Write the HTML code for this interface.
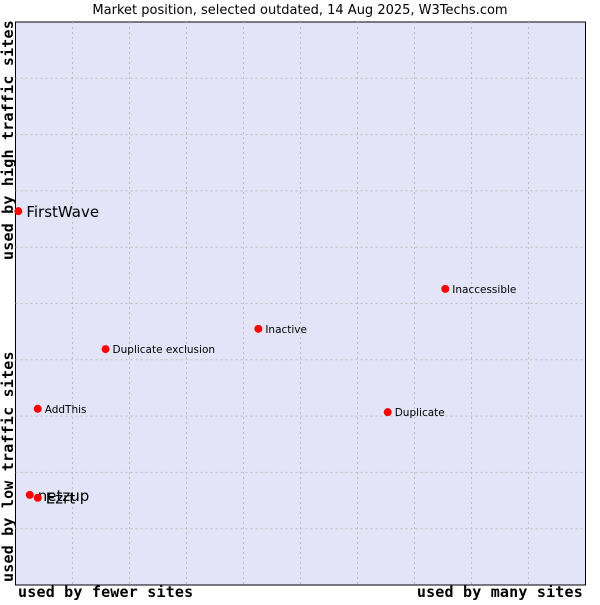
<!DOCTYPE html>
<html><head><meta charset="utf-8"><style>
body{margin:0;background:#fff;width:600px;height:600px;overflow:hidden}
svg text{font-family:"DejaVu Sans","Liberation Sans",sans-serif}
.mono{font-family:"DejaVu Sans Mono","Liberation Mono",monospace;font-size:15px;font-weight:bold;letter-spacing:0.2px}
</style></head><body>
<svg id="chart" width="600" height="600">
<text x="300" y="14" text-anchor="middle" font-size="13">Market position, selected outdated, 14 Aug 2025, W3Techs.com</text>
<rect x="15.5" y="22" width="570" height="563" fill="#e3e4f7" stroke="#000"/>
<g id="grid"></g>
<g id="marks"></g>
<text class="mono" x="18" y="597">used by fewer sites</text>
<text class="mono" x="583" y="597" text-anchor="end">used by many sites</text>
<text class="mono" transform="translate(13,582) rotate(-90)">used by low traffic sites</text>
<text class="mono" transform="translate(13,260) rotate(-90)">used by high traffic sites</text>
</svg>
<script>
const names=["FirstWave","Inaccessible","Inactive","Duplicate exclusion","AddThis","Duplicate","netzup","Ezrt"];
const xs=[0.5,75.4,42.6,15.8,3.9,65.3,2.5,3.9];
const ys=[66.4,52.6,45.5,41.9,31.3,30.7,16.0,15.5];
const big=[true,false,false,false,false,false,true,true];
const X0=15.5,W=570,Y0=22,H=563;
const sx=v=>X0+v/100*W, sy=v=>Y0+H-v/100*H;
const NS="http://www.w3.org/2000/svg";
const g=document.getElementById('grid');
for(let i=1;i<10;i++){
 const v=document.createElementNS(NS,'line');
 v.setAttribute('x1',sx(i*10));v.setAttribute('x2',sx(i*10));v.setAttribute('y1',Y0);v.setAttribute('y2',Y0+H);
 v.setAttribute('stroke','#bdbdbd');v.setAttribute('stroke-dasharray','2,3');
 
 
 g.appendChild(v);
 const h=document.createElementNS(NS,'line');
 h.setAttribute('y1',sy(i*10));h.setAttribute('y2',sy(i*10));h.setAttribute('x1',X0);h.setAttribute('x2',X0+W);
 h.setAttribute('stroke','#bdbdbd');h.setAttribute('stroke-dasharray','2,3');
 
 
 g.appendChild(h);
}
const m=document.getElementById('marks');
names.forEach((n,i)=>{
 const c=document.createElementNS(NS,'circle');
 c.setAttribute('cx',sx(xs[i]));c.setAttribute('cy',sy(ys[i]));c.setAttribute('r',4);c.setAttribute('fill','#f00');
 
 
 m.appendChild(c);
 const t=document.createElementNS(NS,'text');
 t.setAttribute('x',sx(xs[i])+(big[i]?8:7));t.setAttribute('y',sy(ys[i])+(big[i]?6:4));
 t.setAttribute('font-size',big[i]?15:10.5);
 t.textContent=n;
 
 
 m.appendChild(t);
});
</script>
</body></html>
